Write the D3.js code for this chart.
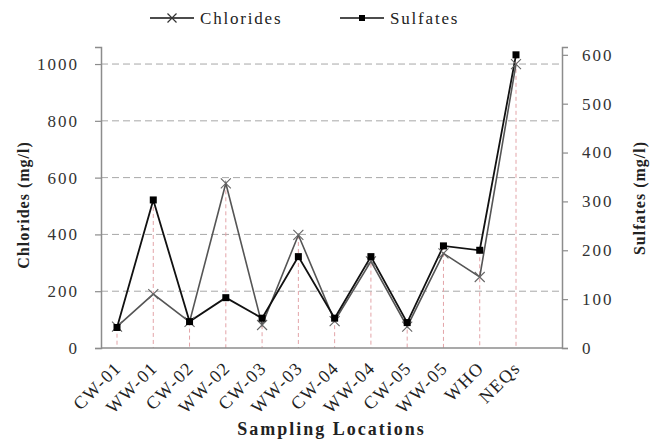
<!DOCTYPE html>
<html><head><meta charset="utf-8">
<script src="https://cdn.jsdelivr.net/npm/d3@7"></script>
<style>
body{margin:0;background:#fff;}
svg{display:block;}
svg text{font-family:"Liberation Serif","Times New Roman","DejaVu Serif",serif !important;}
</style></head>
<body><svg id="chart" width="655" height="440"></svg>
<script>
const categories = ["CW-01","WW-01","CW-02","WW-02","CW-03","WW-03","CW-04","WW-04","CW-05","WW-05","WHO","NEQs"];
const chlorides = [75,190,92,580,81,398,95,305,75,333,250,1000];
const sulfates  = [42,303,54,103,61,187,61,187,52,209,200,600];
const leftTicks = [0,200,400,600,800,1000];
const rightTicks = [0,100,200,300,400,500,600];
const seriesNames = ["Chlorides","Sulfates"];

const W = 655, H = 440;
const m = {top:47, right:93, bottom:92, left:101};
const w = W - m.left - m.right, h = H - m.top - m.bottom;
const svg = d3.select("#chart");
const g = svg.append("g").attr("transform",`translate(${m.left},${m.top})`);

const x = d3.scalePoint().domain(categories).range([16, w-46]);
const yL = d3.scaleLinear().domain([0,1060]).range([h,0]);
const yR = d3.scaleLinear().domain([0,616]).range([h,0]);

// gridlines
g.selectAll(".grid").data(leftTicks.filter(d=>d>0)).join("line")
  .attr("x1",0).attr("x2",w).attr("y1",d=>yL(d)).attr("y2",d=>yL(d))
  .attr("stroke","#a8a8a8").attr("stroke-width",1).attr("stroke-dasharray","7,4");

// drop lines
g.selectAll(".drop").data(categories).join("line")
  .attr("x1",d=>x(d)).attr("x2",d=>x(d))
  .attr("y1",(d,i)=>Math.min(yL(chlorides[i]),yR(sulfates[i])))
  .attr("y2",h)
  .attr("stroke","#e3a4a8").attr("stroke-width",1).attr("stroke-dasharray","4,3");

// axes
const fmt = d3.format("d");
const axL = g.append("g").call(d3.axisLeft(yL).tickValues(leftTicks).tickFormat(fmt).tickSize(6).tickPadding(16));
const axR = g.append("g").attr("transform",`translate(${w},0)`).call(d3.axisRight(yR).tickValues(rightTicks).tickFormat(fmt).tickSize(6).tickPadding(14));
const axB = g.append("g").attr("transform",`translate(0,${h})`).call(d3.axisBottom(x).tickSize(0).tickPadding(0));
[axL,axR,axB].forEach(a=>{
  a.attr("font-family",null);
  a.select(".domain").attr("stroke","#8c8c8c").attr("stroke-width",1.5);
  a.selectAll(".tick line").attr("stroke","#8c8c8c").attr("stroke-width",1.2);
  a.selectAll("text").attr("fill","#333");
});
axL.selectAll("text").attr("font-size",17).attr("letter-spacing","2px");
axR.selectAll("text").attr("font-size",17).attr("letter-spacing","2px");
axB.select(".domain").attr("d",`M0,0H${w}`);
axB.selectAll(".tick text")
  .attr("font-size",18).attr("letter-spacing","1.5px").attr("fill","#222")
  .attr("text-anchor","end").attr("dy",0)
  .attr("transform","translate(5,21) rotate(-45)");

// lines
const lineL = d3.line().x((d,i)=>x(categories[i])).y(d=>yL(d));
const lineR = d3.line().x((d,i)=>x(categories[i])).y(d=>yR(d));
g.append("path").datum(chlorides).attr("d",lineL).attr("fill","none").attr("stroke","#555").attr("stroke-width",1.6);
g.append("path").datum(sulfates).attr("d",lineR).attr("fill","none").attr("stroke","#111").attr("stroke-width",1.8);

// markers
const xm = 5;
g.selectAll(".xm").data(chlorides).join("path")
  .attr("d",(d,i)=>{const cx=x(categories[i]),cy=yL(d);return `M${cx-xm},${cy-xm}L${cx+xm},${cy+xm}M${cx-xm},${cy+xm}L${cx+xm},${cy-xm}`;})
  .attr("stroke","#666").attr("stroke-width",1.1).attr("fill","none");
g.selectAll(".sq").data(sulfates).join("rect")
  .attr("x",(d,i)=>x(categories[i])-3.5).attr("y",d=>yR(d)-3.5)
  .attr("width",7).attr("height",7).attr("fill","#000");

// axis titles
svg.append("text").attr("transform",`translate(29,${m.top+158}) rotate(-90)`)
  .attr("text-anchor","middle").attr("font-weight","bold").attr("font-size",16).attr("letter-spacing","1px")
  .attr("fill","#222").text("Chlorides (mg/l)");
svg.append("text").attr("transform",`translate(645,${m.top+151}) rotate(-90)`)
  .attr("text-anchor","middle").attr("font-weight","bold").attr("font-size",16).attr("letter-spacing","1px")
  .attr("fill","#222").text("Sulfates (mg/l)");
svg.append("text").attr("x",m.left+w/2).attr("y",435)
  .attr("text-anchor","middle").attr("font-weight","bold").attr("font-size",18).attr("letter-spacing","2px")
  .attr("fill","#222").text("Sampling Locations");

// legend
const leg = svg.append("g");
const lx = [150, 340];
seriesNames.forEach((name,i)=>{
  const gx = lx[i];
  leg.append("line").attr("x1",gx).attr("x2",gx+44).attr("y1",18).attr("y2",18).attr("stroke","#111").attr("stroke-width",1.4);
  if(i===0){
    const cx=gx+22,cy=18,s=4.5;
    leg.append("path").attr("d",`M${cx-s},${cy-s}L${cx+s},${cy+s}M${cx-s},${cy+s}L${cx+s},${cy-s}`).attr("stroke","#333").attr("stroke-width",1.2);
  } else {
    leg.append("rect").attr("x",gx+19).attr("y",15).attr("width",6).attr("height",6).attr("fill","#000");
  }
  leg.append("text").attr("x",gx+50).attr("y",24).attr("font-size",17).attr("letter-spacing","1.8px")
    .attr("fill","#222").text(name);
});
</script></body></html>
